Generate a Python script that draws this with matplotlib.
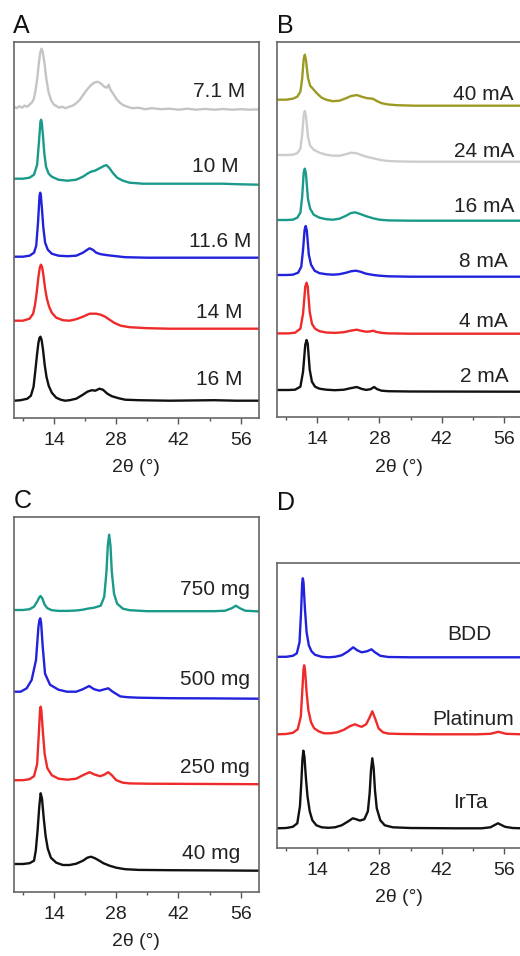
import matplotlib
matplotlib.use("Agg")
import matplotlib.pyplot as plt
from matplotlib.ticker import MultipleLocator

plt.rcParams['font.family'] = ['Liberation Sans', 'DejaVu Sans']

# ---------------- Panel A: concentration ----------------
A_labels = ["7.1 M", "10 M", "11.6 M", "14 M", "16 M"]
A_colors = ["#c4c4c4", "#1a9a8a", "#2222dd", "#ee2a2a", "#111111"]
A_offsets = [308, 233, 160, 89, 17]

A_71_x = [5, 5.6, 6.2, 6.8, 7.4, 8.0, 8.6, 9.0, 9.4, 9.8, 10.2, 10.6, 10.9, 11.2, 11.5, 11.9, 12.3, 12.8, 13.4,
          14.0, 14.6, 15.2, 15.8, 16.6, 17.4, 18.2, 19.0, 19.8, 20.6, 21.4, 22.2, 23.0, 23.8, 24.6, 25.3, 25.9,
          26.3, 26.7, 27.3, 28.0, 28.8, 29.6, 30.5, 31.5, 33, 34.5, 36, 38, 40, 42, 44, 46, 48, 50, 52, 54, 56,
          58, 60]
A_71_y = [3, 1.5, 3.5, 2, 4, 3, 5.5, 7, 10, 18, 30, 47, 57, 61, 57, 45, 30, 17, 9,
          5, 3.5, 2, 3, 1.5, 3, 4, 6.5, 10, 15, 20, 24, 27, 28, 26, 23, 22,
          25, 20, 16, 11, 7, 4.5, 3, 1.5, 2, 0.5, 1.5, 0.5, 1, 0, 1, 0, 0.8, 0, 0.7, 0, 0.5,
          0, 0.3]

A_10_x = [5, 7, 8.5, 9.5, 10.2, 10.6, 10.95, 11.1, 11.25, 11.5, 11.8, 12.2, 12.8, 13.5, 15, 17, 19, 20.5, 21.5,
          22.3, 23.2, 24.5, 25.3, 25.8, 26.4, 27.2, 28.2, 29.5, 31, 34, 40, 47, 52, 55, 60]
A_10_y = [6, 6, 7, 10, 20, 42, 63, 65, 62, 50, 32, 18, 11, 8, 5, 4, 5, 8, 11,
          13, 14, 17, 19, 19.5, 17, 12, 7, 4, 2, 1, 1, 1, 1, 0.5, 0]

A_116_x = [5, 7, 8.5, 9.5, 10.0, 10.4, 10.75, 10.9, 11.05, 11.3, 11.6, 12.0, 12.6, 13.5, 15, 17, 19, 20.5, 21.5,
           22.0, 22.7, 23.5, 24.5, 26, 28, 30, 35, 60]
A_116_y = [1, 1, 2, 5, 12, 35, 62, 65, 62, 48, 30, 15, 8, 4, 2, 1.5, 2, 5, 8,
           9.4, 8, 5, 3.5, 2.5, 1.5, 0.5, 0, 0]

A_14_x = [5, 7, 8.5, 9.3, 9.7, 10.1, 10.5, 10.8, 11.05, 11.3, 11.6, 12.0, 12.4, 12.9, 13.5, 14.5, 16, 17.5,
          19, 20.5, 22, 23.5, 24.5, 25.5, 26.5, 27.5, 29, 31, 35, 40, 60]
A_14_y = [8, 8, 10, 15, 23, 36, 52, 61, 64, 62, 54, 40, 30, 22, 16, 11, 8.5, 8,
          9.5, 12, 15, 15, 14, 12, 9, 6, 3, 1.5, 0.5, 0, 0]

A_16_x = [5, 6.5, 8, 8.8, 9.4, 9.8, 10.2, 10.5, 10.75, 10.95, 11.2, 11.5, 11.9, 12.3, 12.8, 13.5, 14.5, 15.5,
          16.5, 17.5, 19, 20.5, 21.5, 22.5, 23.3, 24.2, 25, 26, 27, 28.5, 30, 33, 40, 50, 55, 60]
A_16_y = [0, 0.5, 2, 5, 14, 30, 47, 58, 63, 64, 61, 52, 36, 24, 15, 8, 3, 1,
          0, 0.5, 2, 6, 9, 10.5, 10, 12, 11, 7, 4.5, 2.5, 1, 0.5, 0, 0.5, 0, 0]

A_label_y = [326, 251, 176, 105, 38]
A_label_x = [57.0, 55.5, 58.5, 56.5, 56.5]

# ---------------- Panel B: current ----------------
B_labels = ["40 mA", "24 mA", "16 mA", "8 mA", "4 mA", "2 mA"]
B_colors = ["#9c9a22", "#cccccc", "#1a9a8a", "#2222dd", "#ee2a2a", "#111111"]
B_offsets = [311, 255, 196, 140, 83, 25]

B_40_x = [5, 7, 8.5, 9.5, 10.2, 10.6, 10.95, 11.2, 11.45, 11.9, 12.4, 13.2, 14, 15, 16, 17.5, 19, 20.5, 21.5,
          22.9, 24, 25.2, 26.5, 27.5, 28.5, 30, 32, 36, 45, 60]
B_40_y = [6, 6, 7, 9, 14, 27, 47, 51, 46, 28, 20, 16, 12, 8, 6, 4.5, 5, 7.5, 9.5,
          10.7, 9, 7.5, 7, 4.5, 2.5, 1.2, 0.5, 0, 0, 0]

B_24_x = [5, 7, 8.5, 9.5, 10.2, 10.6, 10.95, 11.2, 11.45, 11.9, 12.4, 13.2, 14.5, 16, 17.5, 19, 20.5, 21.5,
          22.9, 24, 25.5, 27, 28.5, 30, 32, 36, 45, 60]
B_24_y = [6.7, 6.7, 7, 8.5, 13, 27, 47, 50.7, 46, 25, 16, 12, 9, 7, 6, 6, 7.5, 9,
          8.4, 6.5, 4.5, 3, 1.5, 0.7, 0.3, 0, 0, 0]

B_16_x = [5, 7, 8.5, 9.5, 10.2, 10.6, 10.95, 11.2, 11.45, 11.9, 12.4, 13.2, 14.5, 16, 17.5, 19, 20.5, 21.5,
          22.5, 23.5, 25, 26.5, 28, 30, 35, 60]
B_16_y = [0.7, 0.7, 1, 3, 8, 24, 48, 52, 47, 22, 12, 6, 3, 1.5, 1, 2, 5, 7.5,
          8.4, 7, 4.5, 2.5, 1, 0.3, 0, 0]

B_8_x = [5, 7, 8.5, 9.7, 10.4, 10.8, 11.15, 11.4, 11.65, 12.1, 12.6, 13.4, 14.5, 16, 17.5, 19, 20.5, 21.7,
         22.7, 23.7, 25, 26.5, 28, 30, 35, 60]
B_8_y = [1.7, 1.7, 2, 4, 10, 27, 47, 50.7, 46, 22, 12, 6, 3.5, 2.5, 2, 2.5, 4, 5.5,
         6, 5, 3, 1.8, 1, 0.4, 0, 0]

B_4_x = [5, 7.5, 9, 10.2, 10.8, 11.3, 11.6, 11.85, 12.3, 12.8, 13.5, 14.5, 16, 18, 20, 21.5, 22.9, 24, 25,
         25.8, 26.6, 27.3, 28.5, 30, 35, 60]
B_4_y = [0.3, 0.3, 1, 5, 20, 47, 51, 47, 22, 10, 5, 2.5, 1.2, 0.8, 1.5, 3, 4, 2.8, 2,
         2.2, 3, 1.8, 0.8, 0.3, 0, 0]

B_2_x = [5, 7.5, 9, 10.2, 10.8, 11.3, 11.6, 11.85, 12.3, 12.8, 13.5, 14.5, 16, 18, 20, 21.5, 22.9, 24, 25,
         26, 26.8, 27.5, 28.5, 30, 35, 60]
B_2_y = [1.7, 1.7, 2, 5, 20, 47, 51.7, 48, 22, 10, 5, 3, 2, 1.5, 2, 3.5, 4.7, 2.8, 1.8,
         2.5, 4.7, 2.5, 1, 0.5, 0.2, 0]

B_label_y = [322, 265, 210, 155, 95, 40]
B_label_x = [58.3, 58.3, 58.3, 57.0, 57.0, 57.0]

# ---------------- Panel C: mass ----------------
C_labels = ["750 mg", "500 mg", "250 mg", "40 mg"]
C_colors = ["#1a9a8a", "#2222dd", "#ee2a2a", "#111111"]
C_offsets = [280, 193, 107.5, 21]

C_750_x = [5, 7, 8.5, 9.5, 10.2, 10.7, 11.0, 11.4, 11.9, 12.5, 13.5, 15, 17, 19, 20.5, 21.5, 23, 24.5, 25.3,
           25.8, 26.1, 26.4, 26.7, 27.0, 27.5, 28.2, 29.5, 31, 35, 45, 50, 52.5, 54, 54.9, 55.8, 57, 60]
C_750_y = [1.7, 1.7, 2.5, 5, 10, 14.5, 15.7, 13, 7, 3.5, 1.5, 0.8, 0.8, 1.2, 2, 3, 4, 6, 15,
           40, 66, 77, 66, 40, 18, 8, 3, 1.5, 0.5, 0.5, 0.5, 1, 3.5, 6, 3.5, 1, 0.3]

C_500_x = [5, 6.5, 7.85, 8.97, 9.95, 10.5, 10.75, 10.9, 11.1, 11.46, 11.98, 13.1, 15, 16.9, 19, 20.5, 21.9, 23,
           24.2, 26.2, 27.2, 28.9, 30.5, 33, 40, 50, 60]
C_500_y = [7, 7, 10.4, 18.7, 38.7, 72, 79, 80.4, 76, 52, 25, 14, 9, 7, 7, 9.5, 12.7, 9.5,
           8, 10.4, 7, 2.3, 1.5, 1, 0.5, 0.3, 0]

C_250_x = [5, 7, 8.5, 9.5, 10.2, 10.6, 10.85, 11.0, 11.15, 11.5, 11.9, 12.5, 13.5, 15, 17, 19, 20.5, 22.0, 23.2,
           24.4, 25.3, 26.2, 27.0, 28, 29.5, 31, 35, 45, 60]
C_250_y = [4, 4, 5, 8, 20, 52, 74, 77.5, 74, 52, 30, 16, 9, 5.5, 4.5, 5.5, 9, 12, 9.5,
           8, 9.5, 12, 9, 4, 1.5, 0.8, 0.5, 0.3, 0]

C_40_x = [5, 7, 8.5, 9.5, 9.9, 10.3, 10.7, 11.0, 11.3, 11.7, 12.1, 12.6, 13.3, 14.5, 16, 17.5, 19, 20.5, 21.5,
          22.3, 23.2, 24.2, 25.1, 26.5, 28, 30, 33, 40, 50, 60]
C_40_y = [6.7, 6.7, 7.5, 10, 20, 40, 65, 77.4, 72, 52, 35, 22, 13, 8, 5.7, 5.7, 7, 10, 13,
          14, 12.5, 10, 7.5, 5, 3, 1.5, 0.8, 0.5, 0.3, 0]

C_label_y = [302, 212, 124, 38]
C_label_x = [58.0, 58.0, 58.0, 55.9]

# ---------------- Panel D: electrode ----------------
D_labels = ["BDD", "Platinum", "IrTa"]
D_colors = ["#2222dd", "#ee2a2a", "#111111"]
D_offsets = [191, 114, 20]

D_BDD_x = [5, 7, 8.5, 9.4, 10.0, 10.35, 10.6, 10.75, 10.9, 11.2, 11.6, 12.1, 12.7, 13.5, 15, 16.5, 18, 19.5, 20.8,
           22.1, 23.0, 24.0, 25.2, 26.2, 27.0, 28.2, 30, 35, 60]
D_BDD_y = [0.5, 0.5, 1.5, 4, 15, 45, 74, 79, 75, 50, 25, 12, 6, 2.5, 0.5, 0, 0.5, 2, 5.5,
           10, 7, 5, 6, 8, 5, 1.5, 0.3, 0, 0]

D_Pt_x = [5, 7, 8.5, 9.6, 10.3, 10.65, 10.9, 11.05, 11.25, 11.6, 12.0, 12.6, 13.3, 14.3, 15.5, 17, 18.5, 20, 21.3,
          22.5, 23.3, 24.0, 25.0, 25.7, 26.4, 27.1, 27.8, 28.8, 30, 33, 40, 50, 53, 54.8, 56.5, 60]
D_Pt_y = [0, 0.3, 1.5, 5, 18, 45, 65, 69, 64, 42, 24, 12, 6, 3, 1, 1, 2, 4.5, 8,
          10, 8.5, 7.5, 10, 16, 23, 15, 6, 2, 0.7, 0.3, 0, 0, 0.5, 2.5, 0.5, 0]

D_IrTa_x = [5, 7, 8.5, 9.5, 10.1, 10.4, 10.65, 10.86, 11.1, 11.45, 11.8, 12.3, 12.9, 13.8, 15, 16.5, 18, 19.5,
            20.8, 22.0, 22.8, 23.6, 24.6, 25.4, 25.8, 26.1, 26.4, 26.7, 27.0, 27.4, 28.2, 29.2, 31, 35, 45, 51,
            53, 54.7, 56.3, 58, 60]
D_IrTa_y = [0, 0.3, 1.5, 5, 22, 45, 68, 77.6, 72, 50, 32, 17, 8, 3, 1, 0.5, 1, 3,
            6.5, 10, 9, 7.7, 9, 17, 35, 58, 70, 60, 38, 20, 8, 3, 1, 0.3, 0, 0,
            1, 5, 1.5, 0.3, 0]

D_label_y = [214, 129, 46]
D_label_x = [53.3, 58.3, 52.5]

# ---------------- axes ----------------
xticks_major = [14, 28, 42, 56]
x_limits = (5, 60)

W, H = 520, 956
fig = plt.figure(figsize=(W / 100, H / 100), dpi=100)


def make_ax(left, top, right, bottom, ytop):
    ax = fig.add_axes([left / W, 1 - bottom / H, (right - left) / W, (bottom - top) / H])
    ax.set_xlim(*x_limits)
    ax.set_ylim(0, ytop)
    ax.set_xticks(xticks_major)
    ax.xaxis.set_minor_locator(MultipleLocator(7))
    ax.set_yticks([])
    ax.tick_params(axis='x', which='major', direction='out', length=4, width=1.0,
                   colors='#555555', labelsize=14, labelcolor='#222222', pad=6)
    ax.tick_params(axis='x', which='minor', direction='out', length=2.5, width=1.0, colors='#555555')
    for s in ax.spines.values():
        s.set_color('#666666')
        s.set_linewidth(1.2)
    return ax


axA = make_ax(14, 42, 258.5, 417.7, 375.7)
axB = make_ax(277.3, 42, 521.5, 416.7, 374.7)
axC = make_ax(14, 516.7, 258.5, 891.7, 375)
axD = make_ax(277.3, 563, 521.5, 848.3, 285.3)

panels = [
    (axA, [(A_71_x, A_71_y), (A_10_x, A_10_y), (A_116_x, A_116_y), (A_14_x, A_14_y), (A_16_x, A_16_y)],
     A_labels, A_colors, A_offsets, A_label_x, A_label_y),
    (axB, [(B_40_x, B_40_y), (B_24_x, B_24_y), (B_16_x, B_16_y), (B_8_x, B_8_y), (B_4_x, B_4_y), (B_2_x, B_2_y)],
     B_labels, B_colors, B_offsets, B_label_x, B_label_y),
    (axC, [(C_750_x, C_750_y), (C_500_x, C_500_y), (C_250_x, C_250_y), (C_40_x, C_40_y)],
     C_labels, C_colors, C_offsets, C_label_x, C_label_y),
    (axD, [(D_BDD_x, D_BDD_y), (D_Pt_x, D_Pt_y), (D_IrTa_x, D_IrTa_y)],
     D_labels, D_colors, D_offsets, D_label_x, D_label_y),
]

for ax, curves, labels, colors, offsets, lx, ly in panels:
    for (xs, ys), lab, col, off, tx, ty in zip(curves, labels, colors, offsets, lx, ly):
        ax.plot(xs, [v + off for v in ys], color=col, lw=1.7, solid_joinstyle='round', clip_on=True)
        ax.text(tx, ty, lab, ha='right', va='center', fontsize=15, color='#222222')

# x labels
fig.text(136 / W, 1 - 468 / H, "2θ (°)", ha='center', va='center', fontsize=14, color='#222222')
fig.text(399 / W, 1 - 467 / H, "2θ (°)", ha='center', va='center', fontsize=14, color='#222222')
fig.text(136 / W, 1 - 942 / H, "2θ (°)", ha='center', va='center', fontsize=14, color='#222222')
fig.text(399 / W, 1 - 897 / H, "2θ (°)", ha='center', va='center', fontsize=14, color='#222222')

# panel letters
fig.text(13 / W, 1 - 33 / H, "A", ha='left', va='baseline', fontsize=18, color='#111111')
fig.text(277 / W, 1 - 33 / H, "B", ha='left', va='baseline', fontsize=18, color='#111111')
fig.text(14 / W, 1 - 508 / H, "C", ha='left', va='baseline', fontsize=18, color='#111111')
fig.text(277 / W, 1 - 510 / H, "D", ha='left', va='baseline', fontsize=18, color='#111111')

fig.savefig("out.png", dpi=100, facecolor='white')
